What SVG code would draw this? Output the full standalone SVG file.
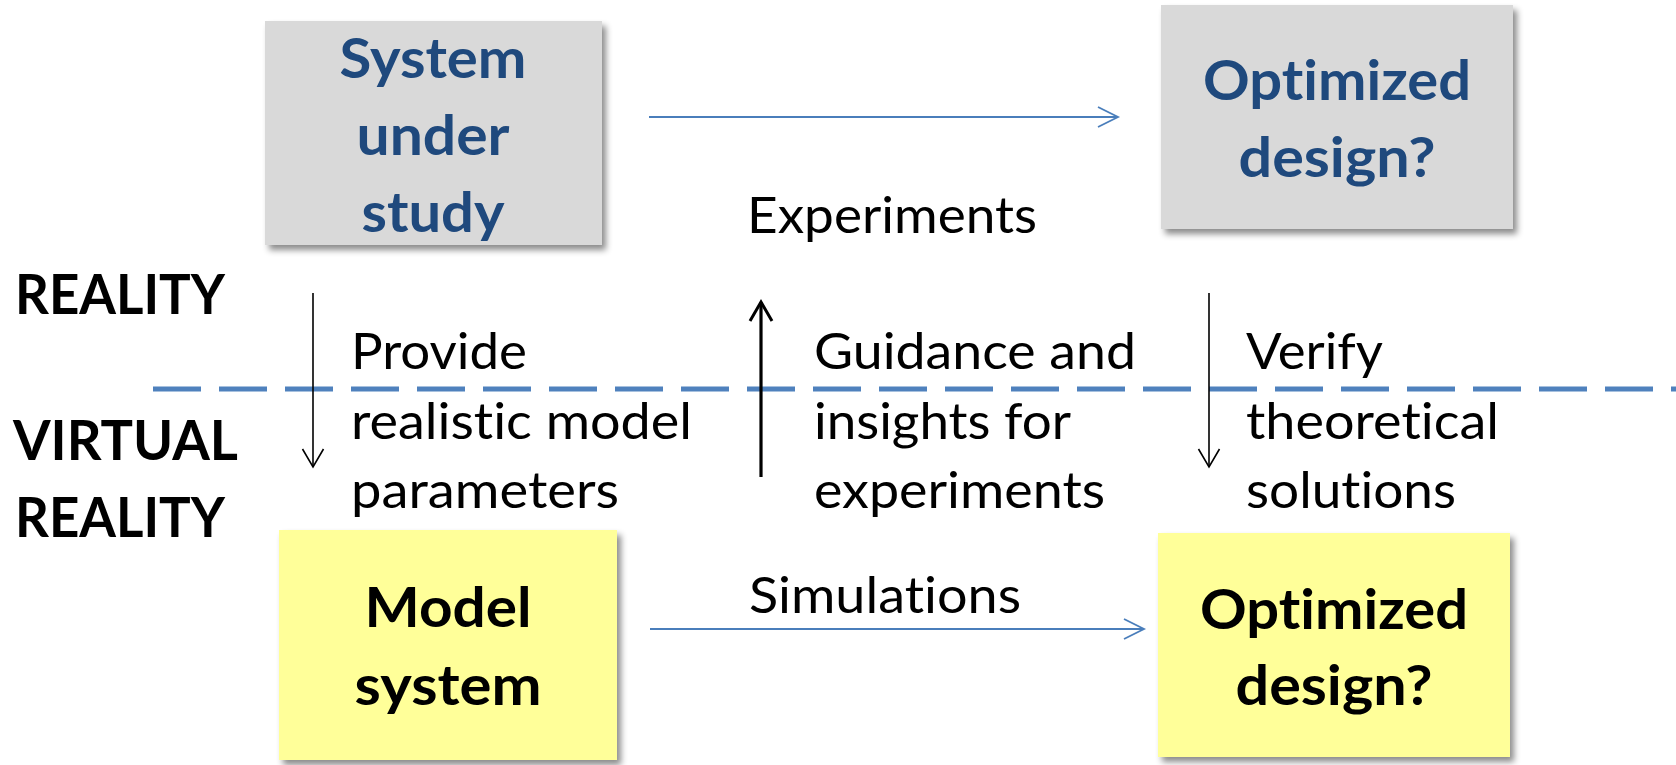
<svg xmlns="http://www.w3.org/2000/svg" width="1676" height="765" viewBox="0 0 1676 765">
  <defs>
    <filter id="shadow" x="-10%" y="-10%" width="125%" height="125%">
      <feDropShadow dx="4" dy="5" stdDeviation="3" flood-color="#000" flood-opacity="0.45"/>
    </filter>
    <marker id="headBlue" markerUnits="userSpaceOnUse" markerWidth="30" markerHeight="30" viewBox="-25 -15 30 30" refX="0" refY="0" orient="auto">
      <path d="M-20,-10 L0,0 L-20,10" fill="none" stroke="#4A7EBB" stroke-width="1.8"/>
    </marker>
    <marker id="headThin" markerUnits="userSpaceOnUse" markerWidth="30" markerHeight="30" viewBox="-25 -15 30 30" refX="0" refY="0" orient="auto">
      <path d="M-18,-10.5 L0,0 L-18,10.5" fill="none" stroke="#000" stroke-width="1.6"/>
    </marker>
    <marker id="headThick" markerUnits="userSpaceOnUse" markerWidth="30" markerHeight="30" viewBox="-25 -15 30 30" refX="0" refY="0" orient="auto">
      <path d="M-19,-11 L0,0 L-19,11" fill="none" stroke="#000" stroke-width="3"/>
    </marker>
  </defs>
  <style>
    text { font-variant-ligatures: none; font-feature-settings: "liga" 0, "clig" 0; }
    .real { fill: #D9D9D9; filter: url(#shadow); }
    .virt { fill: #FFFF99; filter: url(#shadow); }
    .bold { font-family: Lato, "Liberation Sans", sans-serif; font-weight: bold; font-size: 56px; }
    .reg { font-family: Lato, "Liberation Sans", sans-serif; font-size: 51px; fill: #000; }
    .blue { fill: #1F497D; }
    .dark { fill: #000; }
    .mid { text-anchor: middle; }
  </style>

  <rect width="1676" height="765" fill="#fff"/>

  <!-- reality / virtual reality boundary -->
  <line x1="153" y1="389" x2="1676" y2="389" stroke="#4F81BD" stroke-width="5" stroke-dasharray="48 18"/>

  <!-- side labels -->
  <g id="label-reality">
    <text class="bold dark" x="15" y="314" textLength="210" lengthAdjust="spacingAndGlyphs">REALITY</text>
  </g>
  <g id="label-virtual">
    <text class="bold dark" x="13" y="460" textLength="225" lengthAdjust="spacingAndGlyphs">VIRTUAL</text>
    <text class="bold dark" x="15" y="537" textLength="210" lengthAdjust="spacingAndGlyphs">REALITY</text>
  </g>

  <!-- nodes -->
  <g id="system-under-study">
    <rect class="real" x="265" y="21" width="337" height="224"/>
    <text class="bold blue mid" x="433" y="78" textLength="187" lengthAdjust="spacingAndGlyphs">System</text>
    <text class="bold blue mid" x="433" y="155" textLength="153" lengthAdjust="spacingAndGlyphs">under</text>
    <text class="bold blue mid" x="433" y="232" textLength="143" lengthAdjust="spacingAndGlyphs">study</text>
  </g>
  <g id="optimized-real">
    <rect class="real" x="1161" y="5" width="352" height="224"/>
    <text class="bold blue mid" x="1337" y="100" textLength="268" lengthAdjust="spacingAndGlyphs">Optimized</text>
    <text class="bold blue mid" x="1337" y="177" textLength="197" lengthAdjust="spacingAndGlyphs">design?</text>
  </g>
  <g id="model-system">
    <rect class="virt" x="279" y="530" width="338" height="230"/>
    <text class="bold dark mid" x="448" y="627" textLength="167" lengthAdjust="spacingAndGlyphs">Model</text>
    <text class="bold dark mid" x="448" y="705" textLength="187" lengthAdjust="spacingAndGlyphs">system</text>
  </g>
  <g id="optimized-virtual">
    <rect class="virt" x="1158" y="533" width="352" height="224"/>
    <text class="bold dark mid" x="1334" y="629" textLength="268" lengthAdjust="spacingAndGlyphs">Optimized</text>
    <text class="bold dark mid" x="1334" y="705" textLength="197" lengthAdjust="spacingAndGlyphs">design?</text>
  </g>

  <!-- connectors -->
  <g id="connectors">
    <line x1="649" y1="117" x2="1118" y2="117" stroke="#4A7EBB" stroke-width="1.8" marker-end="url(#headBlue)"/>
    <line x1="650" y1="629" x2="1144" y2="629" stroke="#4A7EBB" stroke-width="1.8" marker-end="url(#headBlue)"/>
    <line x1="313" y1="293" x2="313" y2="467" stroke="#000" stroke-width="1.6" marker-end="url(#headThin)"/>
    <line x1="761" y1="477" x2="761" y2="302" stroke="#000" stroke-width="3.2" marker-end="url(#headThick)"/>
    <line x1="1209" y1="293" x2="1209" y2="467" stroke="#000" stroke-width="1.6" marker-end="url(#headThin)"/>
  </g>

  <!-- connector labels -->
  <g id="connector-labels">
    <text class="reg" x="747" y="233" textLength="290" lengthAdjust="spacingAndGlyphs">Experiments</text>
    <text class="reg" x="749" y="613" textLength="272" lengthAdjust="spacingAndGlyphs">Simulations</text>

    <text class="reg" x="351" y="369" textLength="176" lengthAdjust="spacingAndGlyphs">Provide</text>
    <text class="reg" x="351" y="439" textLength="341" lengthAdjust="spacingAndGlyphs">realistic model</text>
    <text class="reg" x="351" y="508" textLength="268" lengthAdjust="spacingAndGlyphs">parameters</text>

    <text class="reg" x="814" y="369" textLength="322" lengthAdjust="spacingAndGlyphs">Guidance and</text>
    <text class="reg" x="814" y="439" textLength="257" lengthAdjust="spacingAndGlyphs">insights for</text>
    <text class="reg" x="814" y="508" textLength="291" lengthAdjust="spacingAndGlyphs">experiments</text>

    <text class="reg" x="1246" y="369" textLength="137" lengthAdjust="spacingAndGlyphs">Verify</text>
    <text class="reg" x="1246" y="439" textLength="253" lengthAdjust="spacingAndGlyphs">theoretical</text>
    <text class="reg" x="1246" y="508" textLength="210" lengthAdjust="spacingAndGlyphs">solutions</text>
  </g>
</svg>
